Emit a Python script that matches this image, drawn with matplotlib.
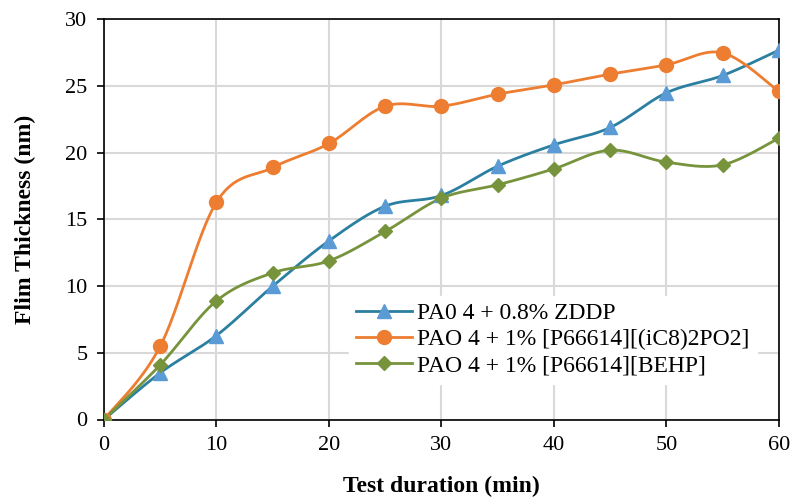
import numpy as np
import matplotlib
matplotlib.use("Agg")
import matplotlib.pyplot as plt

# data
minutes = [0, 5, 10, 15, 20, 25, 30, 35, 40, 45, 50, 55, 60]
zddp = [0, 3.5, 6.3, 10.0, 13.4, 16.0, 16.8, 19.0, 20.6, 21.9, 24.5, 25.8, 27.7]
ic8 = [0, 5.5, 16.3, 18.9, 20.7, 23.5, 23.5, 24.4, 25.1, 25.9, 26.6, 27.5, 24.6]
behp = [0, 4.1, 8.9, 11.0, 11.9, 14.1, 16.6, 17.6, 18.8, 20.2, 19.3, 19.1, 21.1]
labels = ["PA0 4 + 0.8% ZDDP",
          "PAO 4 + 1% [P66614][(iC8)2PO2]",
          "PAO 4 + 1% [P66614][BEHP]"]

plt.rcParams['font.family'] = ['Liberation Serif', 'DejaVu Serif']


def smooth(x, y, n=30):
    # Excel-like smoothed line (Catmull-Rom as cubic Bezier)
    x = np.asarray(x, float)
    y = np.asarray(y, float)
    px = np.concatenate([[x[0]], x, [x[-1]]])
    py = np.concatenate([[y[0]], y, [y[-1]]])
    xs, ys = [], []
    t = np.linspace(0, 1, n)
    for i in range(1, len(px) - 2):
        p0 = np.array([px[i], py[i]])
        p3 = np.array([px[i + 1], py[i + 1]])
        c1 = p0 + (np.array([px[i + 1], py[i + 1]]) - np.array([px[i - 1], py[i - 1]])) / 6
        c2 = p3 - (np.array([px[i + 2], py[i + 2]]) - np.array([px[i], py[i]])) / 6
        b = (np.outer((1 - t) ** 3, p0) + np.outer(3 * (1 - t) ** 2 * t, c1)
             + np.outer(3 * (1 - t) * t ** 2, c2) + np.outer(t ** 3, p3))
        xs.extend(b[:, 0])
        ys.extend(b[:, 1])
    return xs, ys


fig = plt.figure(figsize=(7.94, 5.0), dpi=100)
ax = fig.add_axes([0.131, 0.161, 0.850, 0.800])

series = [
    (zddp, '#2B7FA0', '#5B9BD5', '^', 10),
    (ic8, '#ED7D31', '#ED7D31', 'o', 10),
    (behp, '#77933C', '#77933C', 'D', 7.5),
]

handles = []
for (vals, lc, mc, mk, ms), lab in zip(series, labels):
    sx, sy = smooth(minutes, vals)
    ax.plot(sx, sy, color=lc, lw=2, zorder=3)
    ax.plot(minutes, vals, ls='none', marker=mk, ms=ms, color=mc, zorder=4)
    h, = ax.plot([], [], color=lc, lw=2, marker=mk, ms=ms, mfc=mc, mec=mc)
    handles.append(h)

ax.set_xlim(0, 60)
ax.set_ylim(0, 30)
ax.set_xticks(range(0, 61, 10))
ax.set_yticks(range(0, 31, 5))
ax.grid(True, color='#D9D9D9', lw=1.5)
ax.set_axisbelow(True)
for s in ax.spines.values():
    s.set_color('black')
    s.set_linewidth(1.2)
ax.tick_params(labelsize=16, direction='out', length=5, width=1.2, pad=7)

ax.set_xlabel('Test duration (min)', fontsize=17, fontweight='bold', labelpad=15)
ax.set_ylabel('Flim Thickness (nm)', fontsize=17, fontweight='bold', labelpad=21)

leg = ax.legend(handles, labels, loc='lower left', bbox_to_anchor=(0.345, 0.06),
                fontsize=17, frameon=True, fancybox=False, handlelength=2.4,
                handletextpad=0.2, labelspacing=0.2, borderpad=0.3)
leg.get_frame().set_facecolor('white')
leg.get_frame().set_edgecolor('white')
leg.get_frame().set_alpha(1)

fig.savefig('out.png', dpi=100)
